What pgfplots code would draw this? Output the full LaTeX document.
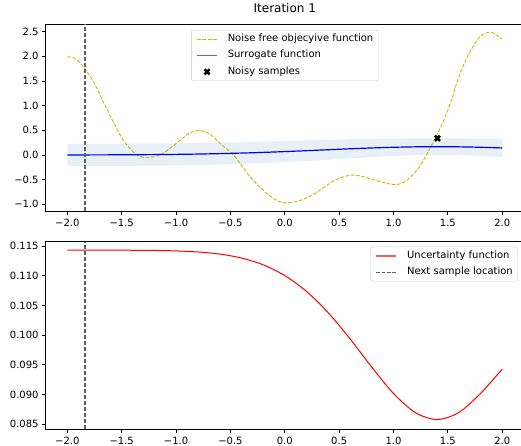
\documentclass[border=0pt]{standalone}
\usepackage{fontspec}
\setmainfont{DejaVu Sans}
\usepackage{pgfplots}
\pgfplotsset{compat=1.18}
\definecolor{yel}{RGB}{191,191,0}
\definecolor{band}{RGB}{232,240,247}
\definecolor{vline}{RGB}{95,95,95}
\definecolor{lgd}{RGB}{204,204,204}
\begin{document}
\fontsize{10}{12}\selectfont
\begin{tikzpicture}
\useasboundingbox (0,0) rectangle (521pt,-446pt);
\pgfplotsset{
  every axis/.append style={
    scale only axis, width=478.4pt, xmin=-2.2, xmax=2.2,
    axis line style={black, line width=0.8pt},
    tick align=outside, tick pos=left, major tick length=3.5pt,
    every tick/.style={black, line width=0.8pt},
    tick label style={font=\fontsize{10}{12}\selectfont},
    xticklabel style={yshift=-1.5pt},
    xtick={-2,-1.5,-1,-0.5,0,0.5,1,1.5,2},
    xticklabels={−2.0,−1.5,−1.0,−0.5,0.0,0.5,1.0,1.5,2.0},
    legend cell align=left,
    legend image code/.code={\draw[mark repeat=2,mark phase=2,#1] plot coordinates {(0pt,0pt) (10pt,0pt) (20pt,0pt)};},
    legend style={draw=lgd, rounded corners=2pt, fill=white, fill opacity=0.8, text opacity=1, draw opacity=1,
      font=\fontsize{10}{12}\selectfont, row sep=6.3pt, inner xsep=5pt, inner ysep=4pt,
      nodes={inner xsep=0pt, inner ysep=0pt, text height=7.5pt, text depth=2.5pt},
      /tikz/every odd column/.append style={column sep=10pt}},
  }
}
\begin{axis}[at={(45.6pt,-24.3pt)}, anchor=north west, height=186.7pt,
  ymin=-1.136, ymax=2.65,
  ytick={-1,-0.5,0,0.5,1,1.5,2,2.5},
  yticklabels={−1.0,−0.5,0.0,0.5,1.0,1.5,2.0,2.5},
  title={Iteration 1}, title style={at={(0.5,1)}, anchor=base, yshift=6pt, font=\fontsize{12}{14}\selectfont},
  legend style={at={(0.5,0.9695)}, anchor=north},
]
\addplot[fill=band, draw=none, forget plot] coordinates {
(-2.0,0.2249) (-1.8,0.2256) (-1.6,0.2268) (-1.4,0.2288) (-1.2,0.2317) (-1.0,0.2361)
(-0.8,0.2420) (-0.6,0.2500) (-0.4,0.2599) (-0.2,0.2717) (0.0,0.2845) (0.2,0.2977)
(0.4,0.3100) (0.6,0.3204) (0.8,0.3281) (1.0,0.3330) (1.2,0.3355) (1.4,0.3362)
(1.6,0.3355) (1.8,0.3330) (2.0,0.3281)
(2.0,-0.0429) (1.8,-0.0206) (1.6,-0.0055) (1.4,-0.0002) (1.2,-0.0055) (1.0,-0.0206)
(0.8,-0.0429) (0.6,-0.0692) (0.4,-0.0968) (0.2,-0.1231) (0.0,-0.1467) (-0.2,-0.1667)
(-0.4,-0.1829) (-0.6,-0.1954) (-0.8,-0.2048) (-1.0,-0.2115) (-1.2,-0.2161) (-1.4,-0.2192)
(-1.6,-0.2212) (-1.8,-0.2224) (-2.0,-0.2231)
} -- cycle;
\addplot[yel, line width=0.9pt, dash pattern=on 3.7pt off 1.6pt, smooth, legend image post style={yel, line width=1pt}] coordinates {
(-2.000,1.99) (-1.929,1.96) (-1.853,1.79) (-1.761,1.49) (-1.669,1.08) (-1.577,0.67)
(-1.485,0.30) (-1.378,0.03) (-1.276,-0.056) (-1.148,0.0) (-1.056,0.135) (-0.95,0.32)
(-0.87,0.45) (-0.78,0.50) (-0.68,0.41) (-0.596,0.236) (-0.458,-0.035) (-0.32,-0.44)
(-0.166,-0.78) (-0.044,-0.95) (0.048,-0.968) (0.15,-0.915) (0.278,-0.78) (0.462,-0.51)
(0.615,-0.407) (0.74,-0.45) (0.829,-0.51) (1.0,-0.60) (1.105,-0.54) (1.228,-0.27)
(1.335,0.135) (1.443,0.607) (1.528,1.08) (1.595,1.555) (1.687,2.027) (1.795,2.40)
(1.896,2.488) (1.994,2.352)
};
\addlegendentry{Noise free objecyive function}
\addplot[blue, line width=1.2pt, smooth, legend image post style={blue!65, line width=1.4pt}] coordinates {
(-2.0,0.0009) (-1.8,0.0016) (-1.6,0.0028) (-1.4,0.0048) (-1.2,0.0078) (-1.0,0.0123)
(-0.8,0.0186) (-0.6,0.0273) (-0.4,0.0385) (-0.2,0.0525) (0.0,0.0689) (0.2,0.0873)
(0.4,0.1066) (0.6,0.1256) (0.8,0.1426) (1.0,0.1562) (1.2,0.1650) (1.4,0.1680)
(1.6,0.1650) (1.8,0.1562) (2.0,0.1426)
};
\addlegendentry{Surrogate function}
\addplot[only marks, mark=x, mark size=3.6pt, mark options={line width=2.6pt, black}, legend image post style={black}] coordinates {(1.404,0.337)};
\addlegendentry{Noisy samples}
\addplot[vline, line width=1.3pt, dash pattern=on 4.2pt off 1.8pt, forget plot] coordinates {(-1.837,-1.136) (-1.837,2.65)};
\end{axis}

\begin{axis}[at={(45.6pt,-241.7pt)}, anchor=north west, height=187.3pt,
  ymin=0.08421, ymax=0.11572,
  ytick={0.085,0.09,0.095,0.1,0.105,0.11,0.115},
  yticklabels={0.085,0.090,0.095,0.100,0.105,0.110,0.115},
  legend style={at={(1,1)}, anchor=north east, xshift=-6pt, yshift=-5pt},
]
\addplot[red, line width=1pt, smooth, legend image post style={red!65, line width=1.4pt}] coordinates {
(-2.0,0.11430) (-1.8,0.11430) (-1.6,0.11429) (-1.4,0.11428) (-1.2,0.11425) (-1.0,0.11417)
(-0.8,0.11399) (-0.6,0.11364) (-0.4,0.11298) (-0.2,0.11184) (0.0,0.11002) (0.2,0.10735)
(0.4,0.10376) (0.6,0.09938) (0.8,0.09462) (1.0,0.09019) (1.2,0.08698) (1.4,0.08580)
(1.6,0.08698) (1.8,0.09019) (2.0,0.09430)
};
\addlegendentry{Uncertainty function}
\addplot[vline, line width=1.3pt, dash pattern=on 4.2pt off 1.8pt, legend image post style={vline, line width=1pt, dash pattern=on 3.7pt off 1.6pt}] coordinates {(-1.837,0.08421) (-1.837,0.11572)};
\addlegendentry{Next sample location}
\end{axis}
\end{tikzpicture}
\end{document}
